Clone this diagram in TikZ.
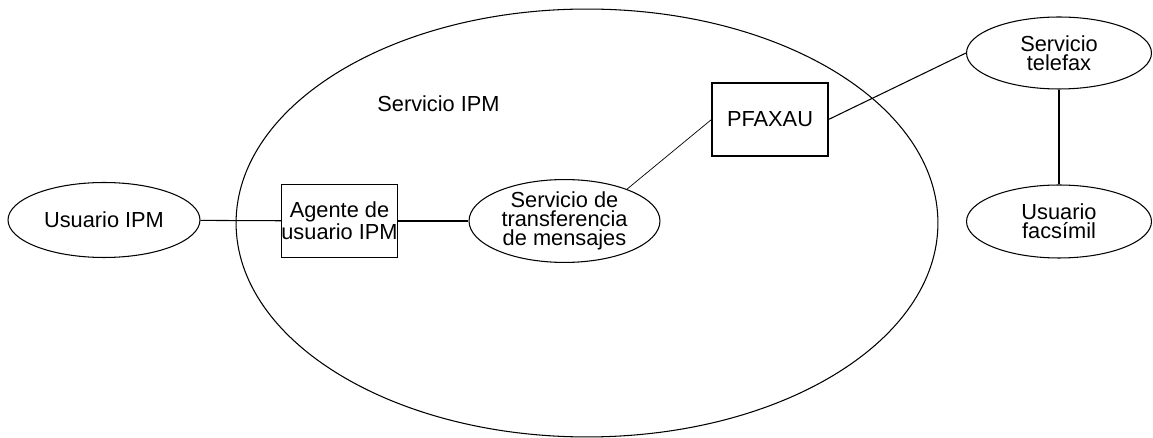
\documentclass[tikz,border=0pt]{standalone}
\usepackage{fontspec}
\setmainfont{Liberation Sans}
\usetikzlibrary{shapes.geometric}
\begin{document}
\begin{tikzpicture}[x=0.02cm,y=-0.02cm,
  every node/.style={font=\fontsize{12.4}{10.9}\selectfont, align=center, inner sep=0pt},
  oval/.style={draw, ellipse, line width=0.6pt, minimum width=#1, minimum height=1.45cm},
  boxnode/.style={draw, rectangle, line width=0.6pt, minimum width=2.31cm, minimum height=1.47cm},
  link/.style={line width=0.6pt},
  thinlink/.style={line width=0.4pt}]
\useasboundingbox (0,0) rectangle (1153,438);
\draw[line width=0.6pt] (587,223) ellipse [x radius=7.02cm, y radius=4.28cm];
\node (ipmlabel) at (438.5,104) {Servicio IPM};
\node[oval=3.84cm, minimum height=1.50cm] (uipm) at (104,220) {Usuario IPM};
\node[boxnode] (agente) at (339.5,221) {Agente de\\usuario IPM};
\node[oval=3.82cm, minimum height=1.44cm] (stm) at (564.5,221) {Servicio de\\transferencia\\de mensajes};
\node[boxnode, minimum width=2.32cm, minimum height=1.46cm] (pfax) at (770,119.5) {PFAXAU};
\node[oval=3.70cm, minimum height=1.44cm] (telefax) at (1059,53) {Servicio\\telefax};
\node[oval=3.70cm, minimum height=1.46cm] (facs) at (1059,221.5) {Usuario\\facsímil};
\draw[link] (uipm) -- (agente);
\draw[link] (agente) -- (stm);
\draw[thinlink] (stm.27) -- (pfax.west);
\draw[link] (pfax.east) -- (telefax.west);
\draw[link] (telefax) -- (facs);
\end{tikzpicture}
\end{document}
